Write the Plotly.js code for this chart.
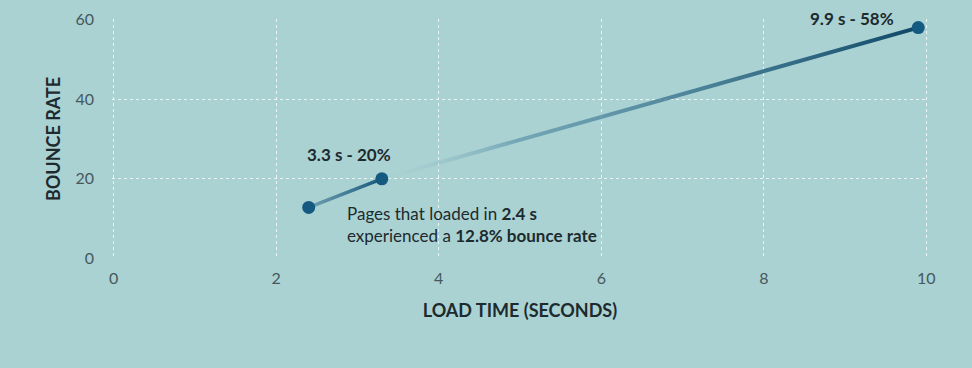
<!DOCTYPE html>
<html>
<head>
<meta charset="utf-8">
<script src="https://cdn.plot.ly/plotly-3.0.1.min.js"></script>
<style>
html,body{margin:0;padding:0;background:#aad2d3;}
#chart{width:972px;height:368px;}
</style>
</head>
<body>
<div id="chart"></div>
<script>
const loadTime = [2.4, 3.3, 9.9];
const bounceRate = [12.8, 20, 58];
const pointLabels = ["", "3.3 s - 20%", "9.9 s - 58%"];
const xTicks = [0, 2, 4, 6, 8, 10];
const yTicks = [0, 20, 40, 60];

const bg = '#aad2d3';
const dark = '#145a80';
const font = 'Lato, "Open Sans", sans-serif';

const traces = [
  { x: loadTime.slice(0, 2), y: bounceRate.slice(0, 2), mode: 'lines',
    line: { color: dark, width: 3.5 }, hoverinfo: 'skip' },
  { x: loadTime.slice(1, 3), y: bounceRate.slice(1, 3), mode: 'lines',
    line: { color: dark, width: 4 }, hoverinfo: 'skip' },
  { x: loadTime, y: bounceRate, mode: 'markers',
    marker: { color: dark, size: 13 }, hoverinfo: 'skip' }
];

const annotations = [
  { x: loadTime[1], y: bounceRate[1], text: '<b>' + pointLabels[1] + '</b>',
    showarrow: false, xanchor: 'center', yanchor: 'bottom', xshift: -33, yshift: 12,
    font: { family: font, size: 17, color: '#1d2a2e' } },
  { x: loadTime[2], y: bounceRate[2], text: '<b>' + pointLabels[2] + '</b>',
    showarrow: false, xanchor: 'right', yanchor: 'bottom', xshift: -22, yshift: -3,
    font: { family: font, size: 17, color: '#1d2a2e' } },
  { x: loadTime[0], y: bounceRate[0], text: 'Pages that loaded in <b>2.4 s</b><br>experienced a <b>12.8% bounce rate</b>',
    showarrow: false, xanchor: 'left', yanchor: 'top', align: 'left', xshift: 36, yshift: 6,
    font: { family: font, size: 17, color: '#1d2a2e' } }
];

const layout = {
  width: 972, height: 368,
  margin: { l: 112, r: 44, t: 19, b: 109 },
  paper_bgcolor: bg, plot_bgcolor: bg,
  showlegend: false,
  font: { family: font },
  xaxis: {
    range: [-0.02, 10.02], tickvals: xTicks, ticktext: xTicks.map(String),
    showgrid: true, gridcolor: 'rgba(255,255,255,0.75)', griddash: 'dot', gridwidth: 1.3,
    zeroline: false, showline: false, ticks: '', ticklen: 0, ticklabelstandoff: 8,
    tickfont: { family: font, size: 16, color: '#45585c' },
    title: { text: '<b>LOAD TIME (SECONDS)</b>', font: { family: font, size: 18, color: '#1d2a2e' }, standoff: 18 },
    fixedrange: true
  },
  yaxis: {
    range: [-0.15, 60.15], tickvals: yTicks, ticktext: yTicks.map(String),
    showgrid: true, gridcolor: 'rgba(255,255,255,0.75)', griddash: 'dot', gridwidth: 1.3,
    zeroline: false, showline: false, ticks: '', ticklen: 0, ticklabelstandoff: 17,
    tickfont: { family: font, size: 16, color: '#45585c' },
    title: { text: '<b>BOUNCE RATE</b>', font: { family: font, size: 18, color: '#1d2a2e' }, standoff: 10 },
    fixedrange: true
  },
  annotations: annotations
};

Plotly.newPlot('chart', traces, layout, { displayModeBar: false, staticPlot: true }).then(function (gd) {
  const svg = gd.querySelector('svg.main-svg');
  const defs = svg.querySelector('defs');
  const ns = 'http://www.w3.org/2000/svg';
  function grad(id, stops) {
    const g = document.createElementNS(ns, 'linearGradient');
    g.setAttribute('id', id);
    g.setAttribute('x1', '0'); g.setAttribute('y1', '0');
    g.setAttribute('x2', '1'); g.setAttribute('y2', '0');
    stops.forEach(function (s) {
      const st = document.createElementNS(ns, 'stop');
      st.setAttribute('offset', s[0]);
      st.setAttribute('stop-color', s[1]);
      st.setAttribute('stop-opacity', s[2]);
      g.appendChild(st);
    });
    defs.appendChild(g);
  }
  grad('segGrad1', [[0, '#2f6e8c', 0.5], [1, '#16577c', 1]]);
  grad('segGrad2', [[0, '#aad2d3', 0.1], [0.25, '#4f8aa2', 0.6], [1, '#0f4868', 1]]);
  const paths = gd.querySelectorAll('.scatterlayer .trace .js-line');
  if (paths[0]) paths[0].style.stroke = 'url(#segGrad1)';
  if (paths[1]) paths[1].style.stroke = 'url(#segGrad2)';
});
</script>
</body>
</html>
